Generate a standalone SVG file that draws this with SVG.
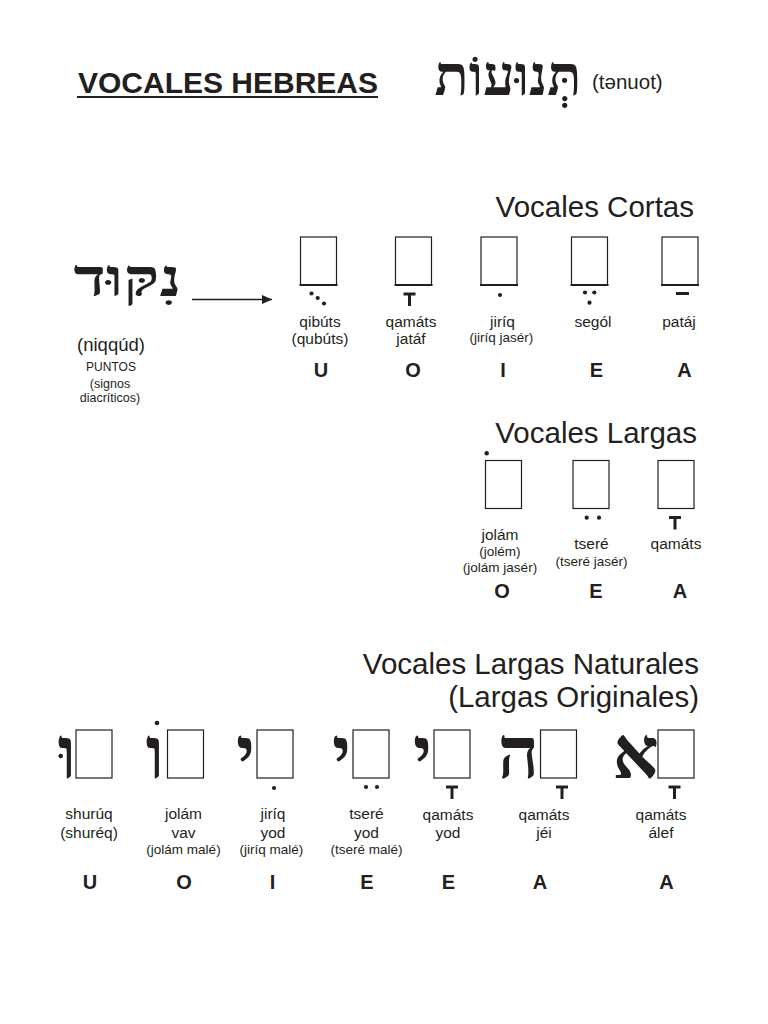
<svg xmlns="http://www.w3.org/2000/svg" width="768" height="1024" viewBox="0 0 768 1024">
<style>
text{font-family:"Liberation Sans",Arial,sans-serif;fill:#231f20}
.t{font-weight:bold;font-size:30px}
.h{font-size:29.5px;text-anchor:end}
.l{font-size:15.5px;text-anchor:middle}
.s{font-size:13.5px;text-anchor:middle}
.b{font-size:20px;font-weight:bold;text-anchor:middle}
.heb{font-family:"Liberation Serif","DejaVu Sans",serif;font-weight:bold;text-anchor:middle}
.box{fill:#fff;stroke:#231f20;stroke-width:1.2}
.base{stroke:#231f20;stroke-width:2.2}
.dot{fill:#231f20}
</style>
<defs>
<path id="qamats-mark" d="M-6,0h12v3h-4.5v10.5h-3V3h-4.5z" fill="#231f20"/>
<rect id="bx" class="box" width="36" height="48"/>
<marker id="ah" markerWidth="10" markerHeight="9" refX="10" refY="4.5" orient="auto" markerUnits="userSpaceOnUse"><path d="M0,0L10,4.5L0,9z" fill="#231f20"/></marker>
</defs>

<g id="title">
<text class="t" x="78" y="93">VOCALES HEBREAS</text>
<line x1="77" y1="97" x2="378" y2="97" stroke="#231f20" stroke-width="2"/>
<text class="heb" x="508" y="95" font-size="56">תְּנוּעוֹת</text>
<text x="592" y="89" font-size="20.5">(tənuot)</text>
</g>

<g id="niqqud">
<text class="heb" transform="translate(127.5,296) scale(1.3,1)" x="0" y="0" font-size="52">נִקּוּד</text>
<text x="111" y="351" font-size="18.5" text-anchor="middle">(niqqúd)</text>
<text x="111" y="370.5" font-size="12" text-anchor="middle">PUNTOS</text>
<text x="110" y="388" font-size="12.5" text-anchor="middle">(signos</text>
<text x="110" y="402" font-size="12.5" text-anchor="middle">diacríticos)</text>
</g>

<g id="connectors">
<line x1="192" y1="299.5" x2="272" y2="299.5" stroke="#231f20" stroke-width="1.6" marker-end="url(#ah)"/>
</g>

<g id="cortas">
<text class="h" x="694" y="217">Vocales Cortas</text>
<g id="qibuts">
<use href="#bx" x="300.5" y="237"/><line class="base" x1="299.5" y1="285" x2="337.5" y2="285"/>
<circle class="dot" cx="311.5" cy="293.5" r="2.1"/><circle class="dot" cx="317.7" cy="298" r="2.1"/><circle class="dot" cx="324" cy="303.5" r="2.1"/>
<text class="l" x="320" y="327">qibúts</text><text class="l" x="320" y="343.5">(qubúts)</text>
<text class="b" x="321" y="377">U</text>
</g>
<g id="qamats-jataf">
<use href="#bx" x="395.5" y="237"/><line class="base" x1="394.5" y1="285" x2="432.5" y2="285"/>
<use href="#qamats-mark" x="409.5" y="292.5"/>
<text class="l" x="411" y="327">qamáts</text><text class="l" x="411" y="343.5">jatáf</text>
<text class="b" x="413" y="377">O</text>
</g>
<g id="jiriq">
<use href="#bx" x="481" y="237"/><line class="base" x1="480" y1="285" x2="518" y2="285"/>
<circle class="dot" cx="500" cy="295" r="2.1"/>
<text class="l" x="502.5" y="327">jiríq</text><text class="s" x="501.5" y="342">(jiríq jasér)</text>
<text class="b" x="503" y="377">I</text>
</g>
<g id="segol">
<use href="#bx" x="571.5" y="237"/><line class="base" x1="570.5" y1="285" x2="608.5" y2="285"/>
<circle class="dot" cx="585" cy="292.5" r="2.1"/><circle class="dot" cx="594.3" cy="292.5" r="2.1"/><circle class="dot" cx="589.5" cy="302.7" r="2.1"/>
<text class="l" x="593" y="327">segól</text>
<text class="b" x="596.5" y="377">E</text>
</g>
<g id="pataj">
<use href="#bx" x="662" y="237"/><line class="base" x1="661" y1="285" x2="699" y2="285"/>
<rect x="676" y="292" width="13" height="3" fill="#231f20"/>
<text class="l" x="679" y="327">patáj</text>
<text class="b" x="684.5" y="377">A</text>
</g>
</g>

<g id="largas">
<text class="h" x="697" y="443">Vocales Largas</text>
<g id="jolam">
<use href="#bx" x="485.5" y="460.5"/>
<circle class="dot" cx="486.7" cy="453.3" r="2.2"/>
<text class="l" x="500" y="540">jolám</text><text class="s" x="500" y="556">(jolém)</text><text class="s" x="500" y="572">(jolám jasér)</text>
<text class="b" x="502" y="598">O</text>
</g>
<g id="tsere">
<use href="#bx" x="573" y="460.5"/>
<circle class="dot" cx="586.7" cy="517.7" r="2.1"/><circle class="dot" cx="599" cy="517.7" r="2.1"/>
<text class="l" x="591.5" y="549">tseré</text><text class="s" x="591.5" y="566">(tseré jasér)</text>
<text class="b" x="596" y="598">E</text>
</g>
<g id="qamats-largo">
<use href="#bx" x="658" y="460.5"/>
<use href="#qamats-mark" x="675" y="516"/>
<text class="l" x="676" y="549">qamáts</text>
<text class="b" x="680" y="598">A</text>
</g>
</g>

<g id="naturales">
<text class="h" x="699" y="674">Vocales Largas Naturales</text>
<text class="h" x="699" y="707">(Largas Originales)</text>
<g id="shuruq">
<text class="heb" x="67" y="778" font-size="72">ו</text>
<circle class="dot" cx="60.7" cy="756" r="2.3"/>
<use href="#bx" x="76" y="730"/>
<text class="l" x="89" y="819">shurúq</text><text class="l" x="89" y="838">(shuréq)</text>
<text class="b" x="90" y="888.5">U</text>
</g>
<g id="jolam-vav">
<text class="heb" x="155" y="778" font-size="72">ו</text>
<circle class="dot" cx="157" cy="723" r="2.3"/>
<use href="#bx" x="167.5" y="730"/>
<text class="l" x="183.5" y="819">jolám</text><text class="l" x="183.5" y="838">vav</text><text class="s" x="183.5" y="854">(jolám malé)</text>
<text class="b" x="184" y="888.5">O</text>
</g>
<g id="jiriq-yod">
<text class="heb" x="245.5" y="778" font-size="72">י</text>
<use href="#bx" x="257" y="730"/>
<circle class="dot" cx="274" cy="788" r="2.1"/>
<text class="l" x="273" y="819">jiríq</text><text class="l" x="273" y="838">yod</text><text class="s" x="271.5" y="854">(jiríq malé)</text>
<text class="b" x="272.5" y="888.5">I</text>
</g>
<g id="tsere-yod">
<text class="heb" x="341.5" y="778" font-size="72">י</text>
<use href="#bx" x="353" y="730"/>
<circle class="dot" cx="366" cy="787" r="2.1"/><circle class="dot" cx="377" cy="787" r="2.1"/>
<text class="l" x="366.5" y="819">tseré</text><text class="l" x="366.5" y="838">yod</text><text class="s" x="366.5" y="854">(tseré malé)</text>
<text class="b" x="367" y="888.5">E</text>
</g>
<g id="qamats-yod">
<text class="heb" x="422.5" y="778" font-size="72">י</text>
<use href="#bx" x="434" y="730"/>
<use href="#qamats-mark" x="452" y="785.5"/>
<text class="l" x="448" y="820">qamáts</text><text class="l" x="448" y="838">yod</text>
<text class="b" x="448.5" y="888.5">E</text>
</g>
<g id="qamats-jei">
<text class="heb" x="518.5" y="778" font-size="72">ה</text>
<use href="#bx" x="540.5" y="730"/>
<use href="#qamats-mark" x="562" y="785.5"/>
<text class="l" x="544" y="820">qamáts</text><text class="l" x="544" y="838">jéi</text>
<text class="b" x="540" y="888.5">A</text>
</g>
<g id="qamats-alef">
<text class="heb" x="635.5" y="778" font-size="72">א</text>
<use href="#bx" x="658" y="730"/>
<use href="#qamats-mark" x="674.5" y="785.5"/>
<text class="l" x="661" y="820">qamáts</text><text class="l" x="661" y="838">álef</text>
<text class="b" x="666.5" y="888.5">A</text>
</g>
</g>
</svg>
